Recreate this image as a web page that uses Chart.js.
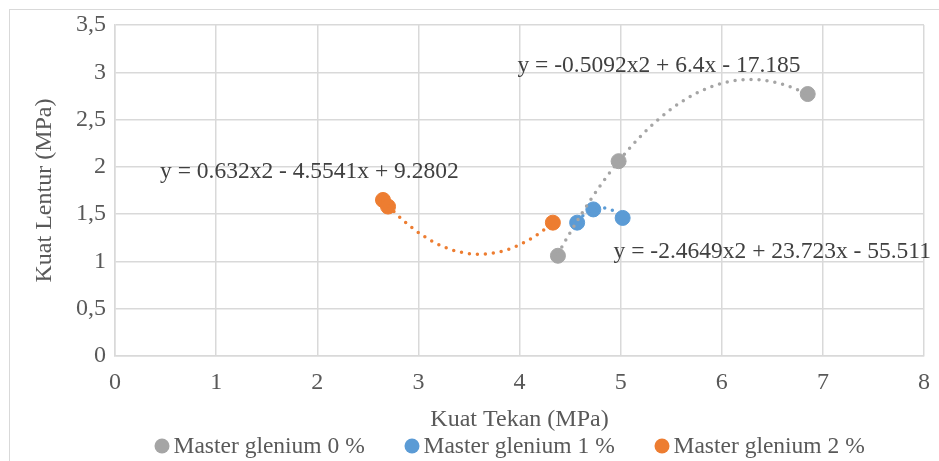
<!DOCTYPE html>
<html>
<head>
<meta charset="utf-8">
<script src="https://cdn.jsdelivr.net/npm/chart.js@4.4.1/dist/chart.umd.min.js"></script>
<style>
  html, body { margin: 0; padding: 0; background: #fff; }
  #wrap { width: 939px; height: 461px; position: relative; }
</style>
</head>
<body>
<div id="wrap"><canvas id="chart"></canvas></div>
<script>
// Data
const seriesNames = ['Master glenium 0 %', 'Master glenium 1 %', 'Master glenium 2 %'];
const seriesColors = ['#A5A5A5', '#5B9BD5', '#ED7D31'];

const tekan0 = [4.38, 4.98, 6.85];
const lentur0 = [1.06, 2.06, 2.77];
const tekan1 = [4.57, 4.73, 5.02];
const lentur1 = [1.41, 1.55, 1.46];
const tekan2 = [2.65, 2.70, 4.33];
const lentur2 = [1.65, 1.58, 1.41];

// Polynomial trendline coefficients (a, b, c) as printed on the chart
const trend0 = [-0.5092, 6.4, -17.185];
const trend1 = [-2.4649, 23.723, -55.511];
const trend2 = [0.632, -4.5541, 9.2802];

const trendLabels = [
    'y = -0.5092x2 + 6.4x - 17.185',
    'y = -2.4649x2 + 23.723x - 55.511',
    'y = 0.632x2 - 4.5541x + 9.2802'
];
// where each equation label sits, in data units (left, middle)
const labelAt = [[3.98, 3.07], [4.93, 1.10], [0.445, 1.945]];

const FONT = "'Liberation Serif', 'Times New Roman', serif";
const TEXT = '#595959';
const FS = 24;

function points(xs, ys) {
    return xs.map((x, i) => ({ x, y: ys[i] }));
}

// sample the fitted parabola between the first and last measured x
function trendPoints(xs, coef) {
    const lo = Math.min(...xs), hi = Math.max(...xs);
    const out = [];
    const n = 60;
    for (let i = 0; i <= n; i++) {
        const x = lo + (hi - lo) * i / n;
        out.push({ x, y: coef[0] * x * x + coef[1] * x + coef[2] });
    }
    return out;
}

const tekan = [tekan0, tekan1, tekan2];
const lentur = [lentur0, lentur1, lentur2];
const trends = [trend0, trend1, trend2];

const datasets = [];
seriesNames.forEach((name, i) => {
    datasets.push({
        label: name,
        data: points(tekan[i], lentur[i]),
        backgroundColor: seriesColors[i],
        borderColor: seriesColors[i],
        pointRadius: 7.5,
        pointHoverRadius: 7.5,
        showLine: false,
        order: 2
    });
});
seriesNames.forEach((name, i) => {
    datasets.push({
        label: 'trend ' + i,
        data: trendPoints(tekan[i], trends[i]),
        borderColor: seriesColors[i],
        borderWidth: 3.5,
        borderDash: [0, 8],
        borderCapStyle: 'round',
        pointRadius: 0,
        showLine: true,
        fill: false,
        order: 1
    });
});

// frame, equation labels and a compact legend (marker close to its text)
const extras = {
    id: 'extras',
    afterDraw(chart) {
        const ctx = chart.ctx;
        ctx.save();
        ctx.strokeStyle = '#D9D9D9';
        ctx.lineWidth = 1;
        ctx.strokeRect(9.5, 9.5, 940, 460);

        const xs = chart.scales.x, ys = chart.scales.y;
        ctx.fillStyle = '#404040';
        ctx.font = '23.5px ' + FONT;
        ctx.textBaseline = 'middle';
        ctx.textAlign = 'left';
        trendLabels.forEach((t, i) => {
            ctx.fillText(t, xs.getPixelForValue(labelAt[i][0]), ys.getPixelForValue(labelAt[i][1]));
        });

        // legend
        ctx.font = '23.5px ' + FONT;
        const step = 250;
        const y = 446;
        seriesNames.forEach((n, i) => {
            const x = 154.5 + step * i;
            ctx.fillStyle = seriesColors[i];
            ctx.beginPath();
            ctx.arc(x + 7.5, y, 7.5, 0, Math.PI * 2);
            ctx.fill();
            ctx.fillStyle = TEXT;
            ctx.fillText(n, x + 19, y + 1);
        });
        ctx.restore();
    }
};

new Chart(document.getElementById('chart'), {
    type: 'scatter',
    data: { datasets },
    plugins: [extras],
    options: {
        responsive: true,
        maintainAspectRatio: false,
        animation: false,
        layout: { padding: { left: 10, right: 15, top: 25, bottom: 27 } },
        plugins: {
            tooltip: { enabled: false },
            legend: { display: false }
        },
        scales: {
            x: {
                type: 'linear',
                min: 0,
                max: 8,
                ticks: {
                    stepSize: 1,
                    color: TEXT,
                    padding: 12,
                    maxRotation: 0,
                    font: { family: FONT, size: FS }
                },
                grid: { color: '#D9D9D9', lineWidth: 1.5, drawTicks: false },
                border: { color: '#D9D9D9', width: 1.5 },
                title: {
                    display: true,
                    text: 'Kuat Tekan (MPa)',
                    color: TEXT,
                    padding: { top: 0, bottom: 0 },
                    font: { family: FONT, size: FS }
                },
                afterFit(scale) {
                    scale.height = 78;
                    scale.paddingLeft = 0;
                    scale.paddingRight = 0;
                }
            },
            y: {
                type: 'linear',
                min: 0,
                max: 3.5,
                ticks: {
                    stepSize: 0.5,
                    color: TEXT,
                    padding: 9,
                    font: { family: FONT, size: FS },
                    callback: v => String(v).replace('.', ',')
                },
                grid: { color: '#D9D9D9', lineWidth: 1.5, drawTicks: false },
                border: { color: '#D9D9D9', width: 1.5 },
                title: {
                    display: true,
                    text: 'Kuat Lentur (MPa)',
                    color: TEXT,
                    padding: { top: 20, bottom: 0 },
                    font: { family: FONT, size: FS }
                },
                afterFit(scale) { scale.width = 105; }
            }
        }
    }
});
</script>
</body>
</html>
